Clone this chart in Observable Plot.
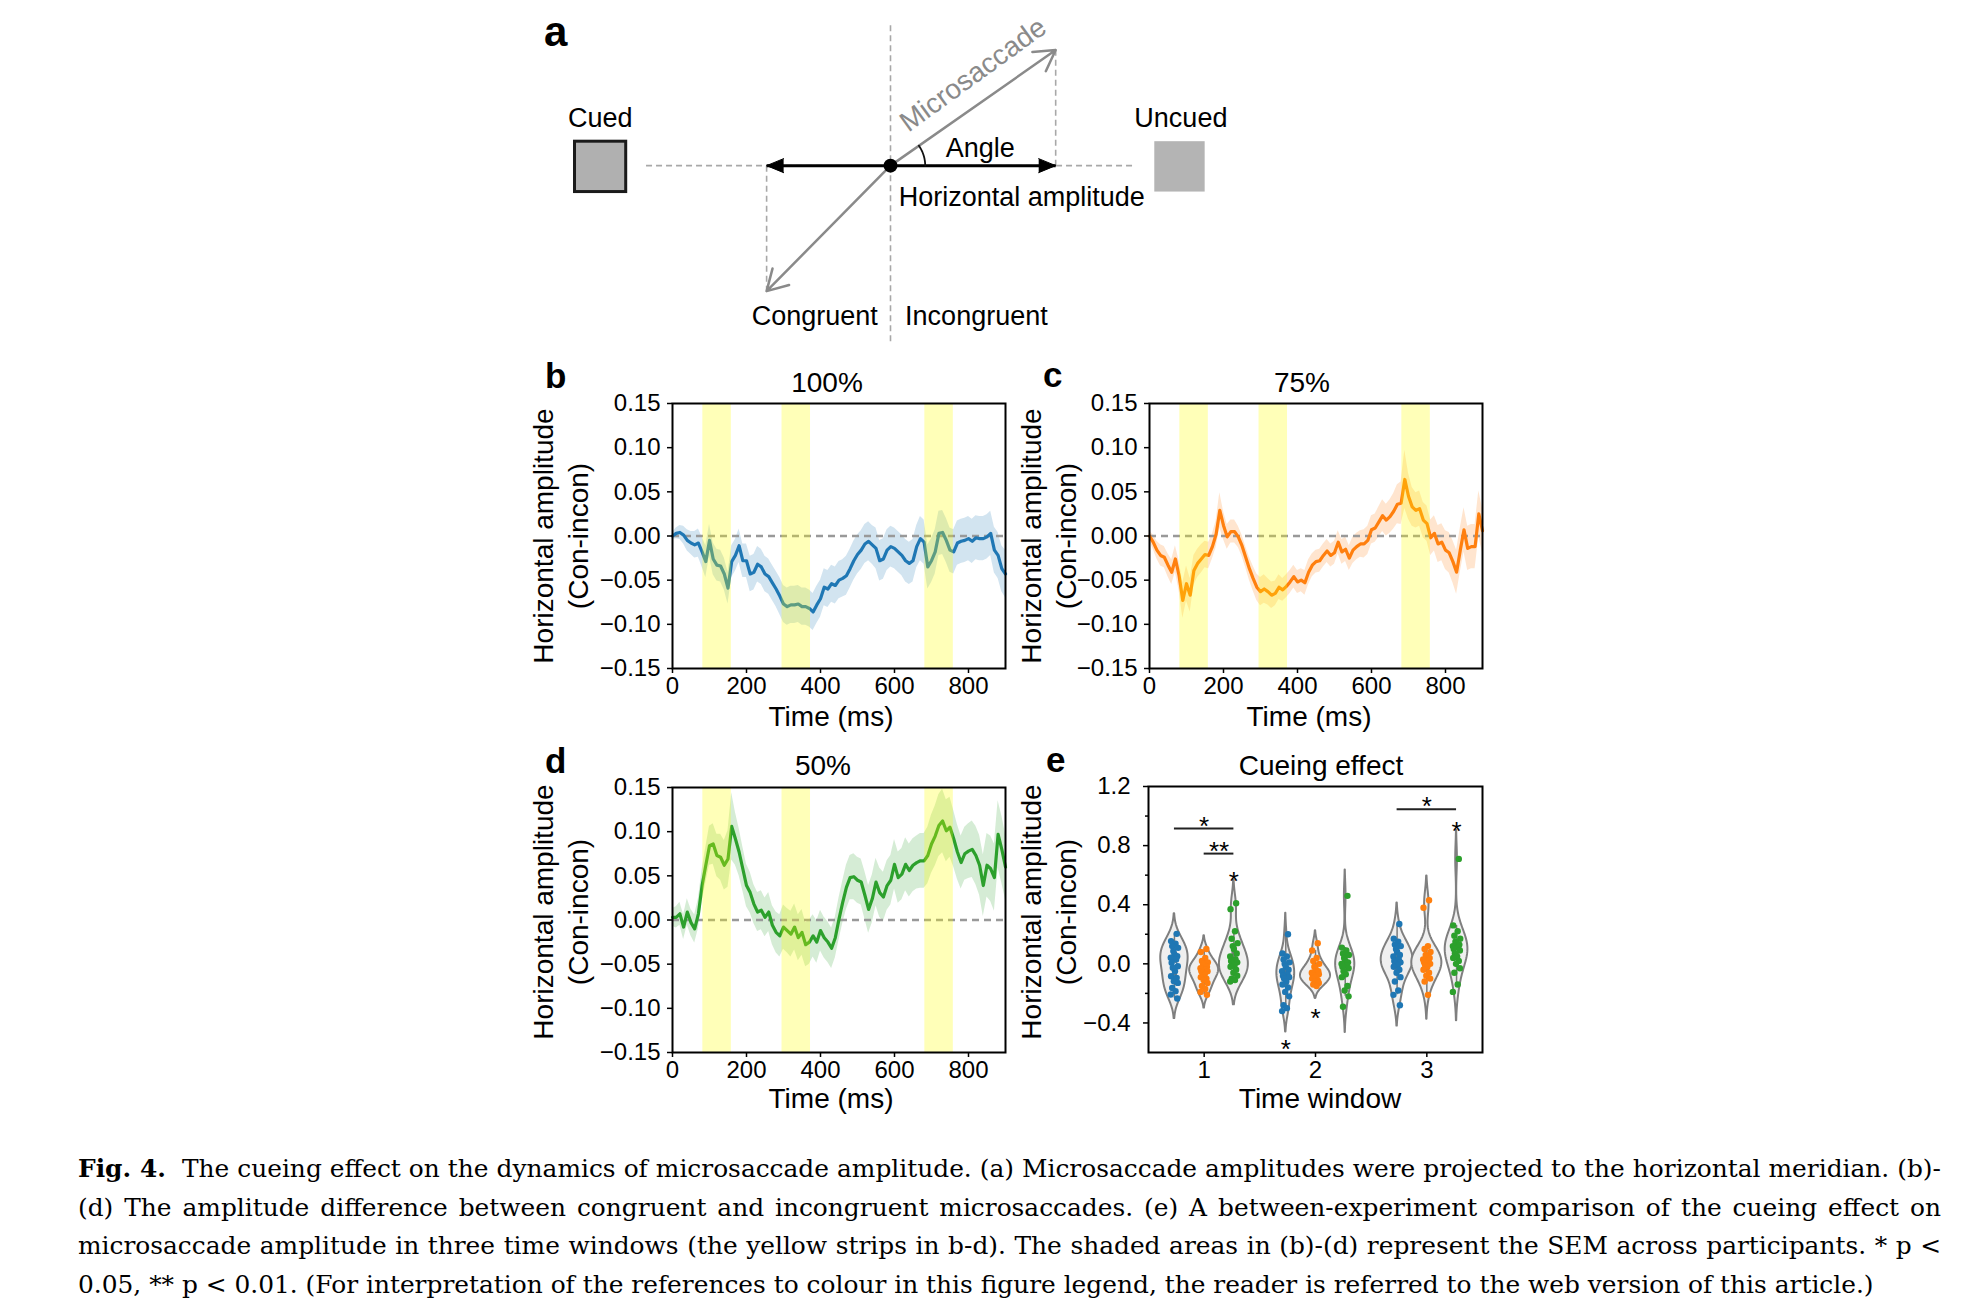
<!DOCTYPE html>
<html><head><meta charset="utf-8">
<script src="https://cdn.jsdelivr.net/npm/d3@7"></script>
<script src="https://cdn.jsdelivr.net/npm/@observablehq/plot@0.6"></script>
<style>
html,body{margin:0;padding:0;background:#fff;}
#page{position:relative;width:1967px;height:1306px;overflow:hidden;background:#fff;font-family:"Liberation Sans",Arial,sans-serif;color:#000;}
.abs{position:absolute;white-space:nowrap;}
.cap{position:absolute;left:78px;width:1863px;font-family:"DejaVu Serif",serif;font-size:25px;line-height:38.6px;color:#000;}
.cap div{white-space:nowrap;text-align:left;}
</style></head>
<body><div id="page"></div>
<script>
// ---------------- DATA ----------------
const timeMs = d3.range(0, 901, 10);
const timeWindows = [{start: 82, end: 159}, {start: 296, end: 373}, {start: 682, end: 759}];
const timeTicks = [0, 200, 400, 600, 800];
const ampTicks = [-0.15, -0.10, -0.05, 0, 0.05, 0.10, 0.15];

const amp100 = [0.000,0.003,0.004,0.001,-0.005,-0.008,-0.010,-0.008,-0.018,-0.029,
 -0.005,-0.026,-0.033,-0.034,-0.043,-0.059,-0.029,-0.022,-0.011,-0.028,
 -0.028,-0.043,-0.041,-0.032,-0.035,-0.043,-0.046,-0.053,-0.060,-0.068,
 -0.077,-0.080,-0.078,-0.078,-0.077,-0.080,-0.080,-0.082,-0.086,-0.078,
 -0.071,-0.058,-0.060,-0.054,-0.056,-0.050,-0.048,-0.045,-0.037,-0.028,
 -0.021,-0.016,-0.009,-0.006,-0.010,-0.014,-0.028,-0.026,-0.016,-0.012,
 -0.014,-0.018,-0.022,-0.028,-0.031,-0.028,-0.012,-0.003,-0.007,-0.035,
 -0.028,-0.018,0.003,0.004,-0.005,-0.016,-0.018,-0.008,-0.006,-0.005,
 -0.003,-0.006,-0.002,-0.003,-0.003,-0.001,0.003,-0.016,-0.022,-0.037,-0.043];
const sem100 = [0.004,0.006,0.008,0.010,0.012,0.013,0.015,0.016,0.017,0.018,
 0.018,0.018,0.018,0.018,0.018,0.018,0.018,0.018,0.019,0.019,
 0.019,0.020,0.020,0.020,0.020,0.020,0.020,0.020,0.020,0.021,
 0.021,0.021,0.021,0.021,0.021,0.021,0.021,0.021,0.021,0.021,
 0.021,0.021,0.021,0.021,0.021,0.021,0.021,0.022,0.022,0.022,
 0.022,0.022,0.022,0.022,0.022,0.023,0.023,0.023,0.023,0.023,
 0.023,0.023,0.023,0.024,0.024,0.024,0.024,0.025,0.025,0.025,
 0.025,0.025,0.025,0.025,0.025,0.025,0.025,0.025,0.025,0.025,
 0.025,0.025,0.025,0.025,0.025,0.025,0.025,0.026,0.026,0.026,0.027];

const amp75 = [0.000,-0.007,-0.016,-0.022,-0.024,-0.033,-0.041,-0.026,-0.045,-0.073,
 -0.054,-0.067,-0.039,-0.031,-0.026,-0.021,-0.022,-0.012,0.002,0.029,
 0.012,-0.001,0.005,0.005,-0.001,-0.011,-0.024,-0.037,-0.048,-0.058,
 -0.063,-0.060,-0.063,-0.067,-0.065,-0.058,-0.061,-0.057,-0.052,-0.046,
 -0.052,-0.050,-0.053,-0.041,-0.033,-0.029,-0.028,-0.022,-0.017,-0.022,
 -0.019,-0.007,-0.018,-0.015,-0.025,-0.016,-0.012,-0.009,-0.009,-0.005,
 0.007,0.009,0.016,0.023,0.018,0.022,0.028,0.036,0.037,0.064,
 0.045,0.033,0.029,0.031,0.018,0.014,-0.002,0.003,-0.009,-0.007,
 -0.016,-0.019,-0.029,-0.041,-0.016,0.007,-0.014,-0.012,-0.012,0.025,0.006];
const sem75 = [0.006,0.008,0.010,0.012,0.012,0.013,0.014,0.015,0.017,0.020,
 0.020,0.019,0.017,0.016,0.016,0.015,0.015,0.014,0.015,0.020,
 0.016,0.014,0.013,0.013,0.012,0.012,0.012,0.013,0.014,0.015,
 0.016,0.016,0.015,0.015,0.014,0.014,0.013,0.013,0.013,0.013,
 0.013,0.013,0.014,0.014,0.013,0.013,0.013,0.013,0.013,0.013,
 0.013,0.013,0.014,0.014,0.014,0.015,0.015,0.015,0.016,0.016,
 0.016,0.016,0.017,0.018,0.018,0.019,0.020,0.022,0.024,0.033,
 0.026,0.022,0.020,0.020,0.020,0.020,0.020,0.020,0.021,0.021,
 0.022,0.023,0.024,0.025,0.025,0.025,0.025,0.025,0.025,0.026,0.025];

const amp50 = [0.003,0.003,0.007,-0.008,0.009,-0.003,-0.010,0.007,0.039,0.062,
 0.084,0.086,0.073,0.071,0.062,0.069,0.106,0.092,0.077,0.058,
 0.039,0.031,0.018,0.009,0.011,0.003,0.009,-0.006,-0.014,-0.018,
 -0.008,-0.012,-0.016,-0.008,-0.020,-0.014,-0.028,-0.025,-0.018,-0.025,
 -0.012,-0.020,-0.025,-0.032,-0.020,0.001,0.020,0.037,0.048,0.049,
 0.045,0.043,0.028,0.012,0.024,0.043,0.031,0.026,0.039,0.045,
 0.063,0.048,0.052,0.063,0.056,0.062,0.065,0.067,0.067,0.073,
 0.086,0.095,0.107,0.112,0.101,0.105,0.092,0.077,0.065,0.075,
 0.078,0.080,0.073,0.062,0.039,0.062,0.058,0.048,0.097,0.080,0.060];
const sem50 = [0.010,0.012,0.013,0.014,0.015,0.015,0.016,0.017,0.018,0.020,
 0.022,0.023,0.024,0.026,0.028,0.032,0.038,0.030,0.027,0.025,
 0.024,0.023,0.022,0.022,0.022,0.022,0.022,0.022,0.023,0.024,
 0.025,0.025,0.026,0.026,0.026,0.026,0.025,0.025,0.024,0.024,
 0.023,0.023,0.023,0.023,0.023,0.024,0.024,0.025,0.025,0.026,
 0.026,0.026,0.027,0.027,0.027,0.027,0.028,0.028,0.028,0.028,
 0.028,0.029,0.029,0.030,0.030,0.030,0.030,0.031,0.031,0.032,
 0.033,0.034,0.035,0.036,0.035,0.034,0.032,0.031,0.030,0.030,
 0.031,0.032,0.033,0.034,0.035,0.036,0.037,0.038,0.038,0.038,0.037];

// panel e: per-participant cueing effect, per time window and cue validity
const cueLevels = ["100%", "75%", "50%"];
const cueColors = ["#1f77b4", "#ff7f0e", "#2ca02c"];
const windowTicks = [1, 2, 3];
const effectTicks = [-0.4, 0, 0.4, 0.8, 1.2];
const effectMinorTicks = [-0.2, 0.2, 0.6, 1.0];
const w1_100 = [0.203,0.154,0.136,0.120,0.108,0.086,0.063,0.052,0.041,0.029,0.007,-0.016,-0.027,-0.050,-0.084,-0.095,-0.118,-0.129,-0.163,-0.185,-0.208,-0.235];
const w1_75  = [0.10,0.08,0.04,0.02,0.01,0.0,-0.01,-0.02,-0.03,-0.04,-0.05,-0.05,-0.06,-0.07,-0.09,-0.10,-0.11,-0.13,-0.15,-0.17,-0.19,-0.21];
const w1_50  = [0.41,0.37,0.22,0.17,0.14,0.12,0.10,0.07,0.05,0.03,0.02,0.01,0.0,-0.01,-0.02,-0.04,-0.06,-0.08,-0.10,-0.11,-0.12];
const w2_100 = [0.20,0.07,0.05,0.03,0.01,0.0,-0.02,-0.04,-0.05,-0.07,-0.08,-0.09,-0.10,-0.12,-0.14,-0.16,-0.19,-0.22,-0.28,-0.30,-0.32];
const w2_75  = [0.14,0.09,0.04,0.02,0.0,-0.02,-0.03,-0.05,-0.06,-0.06,-0.07,-0.07,-0.08,-0.09,-0.10,-0.11,-0.12,-0.13,-0.14,-0.15];
const w2_50  = [0.46,0.11,0.09,0.07,0.06,0.04,0.02,0.01,0.0,-0.01,-0.02,-0.03,-0.05,-0.07,-0.09,-0.15,-0.18,-0.22,-0.29];
const w3_100 = [0.27,0.17,0.15,0.13,0.12,0.10,0.08,0.06,0.05,0.03,0.02,0.01,0.0,-0.01,-0.02,-0.04,-0.06,-0.09,-0.12,-0.18,-0.21,-0.28];
const w3_75  = [0.43,0.38,0.12,0.10,0.08,0.06,0.05,0.04,0.03,0.02,0.01,0.0,-0.01,-0.02,-0.04,-0.06,-0.08,-0.10,-0.12,-0.21];
const w3_50  = [0.71,0.26,0.22,0.19,0.17,0.15,0.14,0.13,0.12,0.11,0.10,0.09,0.07,0.05,0.04,0.02,0.0,-0.03,-0.06,-0.14,-0.19];
const stripJitter = [0.02,-0.03,0.01,-0.02,0.033,-0.01,0.0,0.025,-0.033,0.015,-0.025,0.03,-0.015,0.005,-0.03,0.02,-0.005,0.03,-0.02,0.01,-0.033,0.025];
const sigBrackets = [
  {win: 1, from: "100%", to: "50%", y: 0.915},
  {win: 1, from: "75%", to: "50%", y: 0.746},
  {win: 3, from: "100%", to: "50%", y: 1.046}
];
const sigStars = [
  {win: 1, cues: ["100%", "50%"], y: 0.978, text: "*"},
  {win: 1, cues: ["75%", "50%"], y: 0.809, text: "**"},
  {win: 1, cues: ["50%"], y: 0.606, text: "*"},
  {win: 2, cues: ["100%"], y: -0.536, text: "*"},
  {win: 2, cues: ["75%"], y: -0.325, text: "*"},
  {win: 3, cues: ["100%", "50%"], y: 1.114, text: "*"},
  {win: 3, cues: ["50%"], y: 0.945, text: "*"}
];

// panel a schematic (units: horizontal amplitude = 1)
const saccadeVectors = [{x0: 0, y0: 0, dx: 1, dy: 0.70}, {x0: 0, y0: 0, dx: -0.75, dy: -0.76}];
const horizontalHeads = [{x: 1, y: 0, dir: 90}, {x: -0.75, y: 0, dir: 270}];
const projectionGuides = [
  {x1: -1.48, y1: 0, x2: 1.48, y2: 0},
  {x1: 0, y1: 0.85, x2: 0, y2: -1.085},
  {x1: 1, y1: 0, x2: 1, y2: 0.70},
  {x1: -0.75, y1: 0, x2: -0.75, y2: -0.76}
];
const targetBoxes = [
  {name: "Cued", x1: -1.91, x2: -1.60, y1: -0.16, y2: 0.145},
  {name: "Uncued", x1: 1.60, x2: 1.905, y1: -0.16, y2: 0.145}
];
const schematicLabels = [
  {text: "Cued", x: -1.757, y: 0.285},
  {text: "Uncued", x: 1.758, y: 0.285},
  {text: "Angle", x: 0.544, y: 0.106},
  {text: "Congruent", x: -0.459, y: -0.911},
  {text: "Incongruent", x: 0.52, y: -0.911}
];
const captionLines = [
  "<b>Fig. 4.</b>\u00a0 The cueing effect on the dynamics of microsaccade amplitude. (a) Microsaccade amplitudes were projected to the horizontal meridian. (b)-",
  "(d) The amplitude difference between congruent and incongruent microsaccades. (e) A between-experiment comparison of the cueing effect on",
  "microsaccade amplitude in three time windows (the yellow strips in b-d). The shaded areas in (b)-(d) represent the SEM across participants. * p &lt;",
  "0.05, ** p &lt; 0.01. (For interpretation of the references to colour in this figure legend, the reader is referred to the web version of this article.)"
];

// ---------------- LAYOUT HELPERS ----------------
const page = document.getElementById("page");
const FONT = "'Liberation Sans', Arial, sans-serif";
function place(node, left, top) {
  node.style.position = "absolute";
  node.style.left = left + "px";
  node.style.top = top + "px";
  node.style.maxWidth = "none";
  page.appendChild(node);
}
function label(str, x, baseline, size = 28, weight = "normal", anchor = "middle") {
  const el = document.createElement("div");
  el.className = "abs";
  el.textContent = str;
  el.style.fontSize = size + "px";
  el.style.lineHeight = size + "px";
  el.style.fontWeight = weight;
  el.style.top = (baseline - 0.8465 * size) + "px";
  el.style.left = x + "px";
  if (anchor === "middle") el.style.transform = "translateX(-50%)";
  page.appendChild(el);
}
function yLabel(lines, cx, cy) {
  const el = document.createElement("div");
  el.className = "abs";
  el.innerHTML = lines.join("<br>");
  el.style.fontSize = "28px";
  el.style.lineHeight = "35px";
  el.style.textAlign = "center";
  el.style.left = cx + "px";
  el.style.top = cy + "px";
  el.style.transform = "translate(-50%,-50%) rotate(-90deg)";
  page.appendChild(el);
}
const baseStyle = {fontFamily: FONT, fontSize: "24px", background: "transparent", overflow: "visible", color: "black"};

// ---------------- PANEL a ----------------
{
  const ang = Math.atan2(saccadeVectors[0].dy, saccadeVectors[0].dx);
  const arc = d3.range(0, 21).map(i => ({x: 0.21 * Math.cos(ang * i / 20), y: 0.21 * Math.sin(ang * i / 20)}));
  const p = Plot.plot({
    width: 740, height: 360, margin: 0,
    x: {domain: [-2.24, 2.24], axis: null},
    y: {domain: [-1.18, 1.0], axis: null},
    style: baseStyle,
    marks: [
      Plot.link(projectionGuides, {x1: "x1", y1: "y1", x2: "x2", y2: "y2", stroke: "#a8a8a8", strokeWidth: 1.6, strokeDasharray: "6,4"}),
      Plot.rect(targetBoxes.slice(0, 1), {x1: "x1", x2: "x2", y1: "y1", y2: "y2", fill: "#b0b0b0", stroke: "#1a1a1a", strokeWidth: 3}),
      Plot.rect(targetBoxes.slice(1), {x1: "x1", x2: "x2", y1: "y1", y2: "y2", fill: "#b4b4b4"}),
      Plot.arrow(saccadeVectors, {x1: "x0", y1: "y0", x2: "dx", y2: "dy", stroke: "#8a8a8a", strokeWidth: 2.5, headLength: 14}),
      Plot.link(horizontalHeads, {x1: () => 0, y1: () => 0, x2: "x", y2: "y", stroke: "black", strokeWidth: 3}),
      Plot.vector(horizontalHeads, {x: "x", y: "y", rotate: "dir", length: 17, shape: "spike", r: 7, anchor: "end", fill: "black", stroke: "black", strokeWidth: 1}),
      Plot.dot([{x: 0, y: 0}], {x: "x", y: "y", r: 7, fill: "black"}),
      Plot.line(arc, {x: "x", y: "y", stroke: "#111", strokeWidth: 1.8}),
      Plot.text(schematicLabels, {x: "x", y: "y", text: "text", fontSize: 27, fill: "black"}),
      Plot.text([{text: "Horizontal amplitude", x: 0.05, y: -0.19}], {x: "x", y: "y", text: "text", fontSize: 27, textAnchor: "start", fill: "black"}),
      Plot.text([{text: "Microsaccade", x: 0.5, y: 0.55}], {x: "x", y: "y", text: "text", fontSize: 28, rotate: -36, fill: "#8a8a8a"})
    ]
  });
  place(p, 520, 0);
}

// ---------------- PANELS b, c, d ----------------
function timePlot(amp, sem, color) {
  const rows = timeMs.map((t, i) => ({t, m: amp[i], lo: amp[i] - sem[i], hi: amp[i] + sem[i]}));
  return Plot.plot({
    width: 333 + 102, height: 265 + 57,
    marginLeft: 90, marginRight: 12, marginTop: 12, marginBottom: 45,
    x: {domain: [0, 900], label: null},
    y: {domain: [-0.15, 0.15], label: null},
    style: baseStyle,
    marks: [
      Plot.areaY(rows, {x: "t", y1: "lo", y2: "hi", fill: color, fillOpacity: 0.2}),
      Plot.ruleY([0], {stroke: "#999", strokeWidth: 2.5, strokeDasharray: "7,5"}),
      Plot.line(rows, {x: "t", y: "m", stroke: color, strokeWidth: 3.2}),
      Plot.rect(timeWindows, {x1: "start", x2: "end", fill: "yellow", fillOpacity: 0.28}),
      Plot.frame({stroke: "black", strokeWidth: 2}),
      Plot.axisX({ticks: timeTicks, tickSize: 5, tickPadding: 3, strokeWidth: 1.5, label: null}),
      Plot.axisY({ticks: ampTicks, tickSize: 5, tickPadding: 7, strokeWidth: 1.5, tickFormat: d3.format(".2f"), label: null})
    ]
  });
}
place(timePlot(amp100, sem100, cueColors[0]), 672 - 90, 403 - 12);
place(timePlot(amp75, sem75, cueColors[1]), 1149 - 90, 403 - 12);
place(timePlot(amp50, sem50, cueColors[2]), 672 - 90, 787 - 12);

// ---------------- PANEL e ----------------
{
  const hueOffset = {"100%": -0.267, "75%": 0, "50%": 0.267};
  const violinHalfWidths = [[0.123, 0.13, 0.13], [0.08, 0.135, 0.086], [0.143, 0.135, 0.102]];
  const series = [
    [w1_100, w1_75, w1_50],
    [w2_100, w2_75, w2_50],
    [w3_100, w3_75, w3_50]
  ];
  const violins = [], stats = [], points = [];
  series.forEach((byCue, wi) => {
    byCue.forEach((vals, ci) => {
      const cue = cueLevels[ci];
      const cx = windowTicks[wi] + hueOffset[cue];
      const id = wi + "-" + ci;
      const n = vals.length, bw = d3.deviation(vals) * Math.pow(n, -0.2);
      const lo = d3.min(vals) - 2 * bw, hi = d3.max(vals) + 2 * bw;
      const grid = d3.range(0, 121).map(k => lo + (hi - lo) * k / 120);
      const dens = grid.map(y => d3.sum(vals, v => Math.exp(-0.5 * ((y - v) / bw) ** 2)));
      const dm = d3.max(dens), hw = violinHalfWidths[wi][ci];
      grid.forEach((y, k) => violins.push({id, y, x1: cx - dens[k] / dm * hw, x2: cx + dens[k] / dm * hw}));
      const s = vals.slice().sort(d3.ascending);
      const q1 = d3.quantile(s, 0.25), med = d3.quantile(s, 0.5), q3 = d3.quantile(s, 0.75), iqr = q3 - q1;
      const w1 = d3.min(s.filter(v => v >= q1 - 1.5 * iqr)), w2 = d3.max(s.filter(v => v <= q3 + 1.5 * iqr));
      stats.push({cx, q1, q3, med, w1, w2});
      vals.forEach((v, i) => points.push({x: cx + stripJitter[i % stripJitter.length], v, cue}));
    });
  });
  const brackets = sigBrackets.map(b => ({y: b.y, x1: b.win + hueOffset[b.from], x2: b.win + hueOffset[b.to]}));
  const stars = sigStars.map(s => ({y: s.y, text: s.text, x: s.win + d3.mean(s.cues, c => hueOffset[c])}));
  const p = Plot.plot({
    width: 334 + 102, height: 266 + 57,
    marginLeft: 90, marginRight: 12, marginTop: 12, marginBottom: 45,
    x: {domain: [0.5, 3.5], label: null},
    y: {domain: [-0.6, 1.2], label: null},
    color: {domain: cueLevels, range: cueColors},
    style: baseStyle,
    marks: [
      Plot.areaX(violins, {y: "y", x1: "x1", x2: "x2", z: "id", fill: "#efefef", stroke: "#7f7f7f", strokeWidth: 2}),
      Plot.ruleX(stats, {x: "cx", y1: "w1", y2: "w2", stroke: "#7a7a7a", strokeWidth: 1.5}),
      Plot.ruleX(stats, {x: "cx", y1: "q1", y2: "q3", stroke: "#7a7a7a", strokeWidth: 5}),
      Plot.dot(stats, {x: "cx", y: "med", r: 2, fill: "white"}),
      Plot.dot(points, {x: "x", y: "v", r: 3.2, fill: "cue"}),
      Plot.ruleY(brackets, {y: "y", x1: "x1", x2: "x2", stroke: "#222", strokeWidth: 2}),
      Plot.text(stars, {x: "x", y: "y", text: "text", fontSize: 26, dy: 7, fill: "black"}),
      Plot.frame({stroke: "black", strokeWidth: 2}),
      Plot.axisX({ticks: windowTicks, tickSize: 5, tickPadding: 3, strokeWidth: 1.5, tickFormat: d3.format("d"), label: null}),
      Plot.axisY({ticks: effectTicks, tickSize: 5, tickPadding: 13, strokeWidth: 1.5, tickFormat: d3.format(".1f"), label: null}),
      Plot.axisY({ticks: effectMinorTicks, tickSize: 3, strokeWidth: 1.5, tickFormat: () => "", label: null})
    ]
  });
  place(p, 1148 - 90, 786 - 12);
}

// ---------------- TEXT LABELS ----------------
label("a", 544, 47, 42, "bold", "start");
label("b", 545, 388, 35, "bold", "start");
label("c", 1043, 387, 35, "bold", "start");
label("d", 545, 773, 35, "bold", "start");
label("e", 1046, 772, 35, "bold", "start");
label("100%", 827, 393);
label("75%", 1302, 393);
label("50%", 823, 776);
label("Cueing effect", 1321, 776);
label("Time (ms)", 831, 727);
label("Time (ms)", 1309, 727);
label("Time (ms)", 831, 1109);
label("Time window", 1320, 1109);
yLabel(["Horizontal amplitude", "(Con-incon)"], 561, 536);
yLabel(["Horizontal amplitude", "(Con-incon)"], 1049, 536);
yLabel(["Horizontal amplitude", "(Con-incon)"], 561, 912);
yLabel(["Horizontal amplitude", "(Con-incon)"], 1049, 912);

// ---------------- CAPTION ----------------
{
  const FULL = 1863, LAST = 1831, BASE = 25;
  const cap = document.createElement("div");
  cap.className = "cap";
  cap.style.top = "1150px";
  const spans = captionLines.map(html => {
    const div = document.createElement("div");
    const span = document.createElement("span");
    span.innerHTML = html;
    div.appendChild(span);
    cap.appendChild(div);
    return span;
  });
  page.appendChild(cap);
  const widths = spans.map(s => s.getBoundingClientRect().width);
  const size = Math.min(BASE * LAST / widths[3], BASE * (FULL - 2) / d3.max(widths.slice(0, 3)));
  cap.style.fontSize = size.toFixed(2) + "px";
  spans.slice(0, 3).forEach(s => {
    const w = s.getBoundingClientRect().width;
    const gaps = (s.textContent.match(/[ \u00a0]/g) || []).length;
    s.style.wordSpacing = ((FULL - w) / gaps).toFixed(3) + "px";
  });
}
</script>
</body></html>
